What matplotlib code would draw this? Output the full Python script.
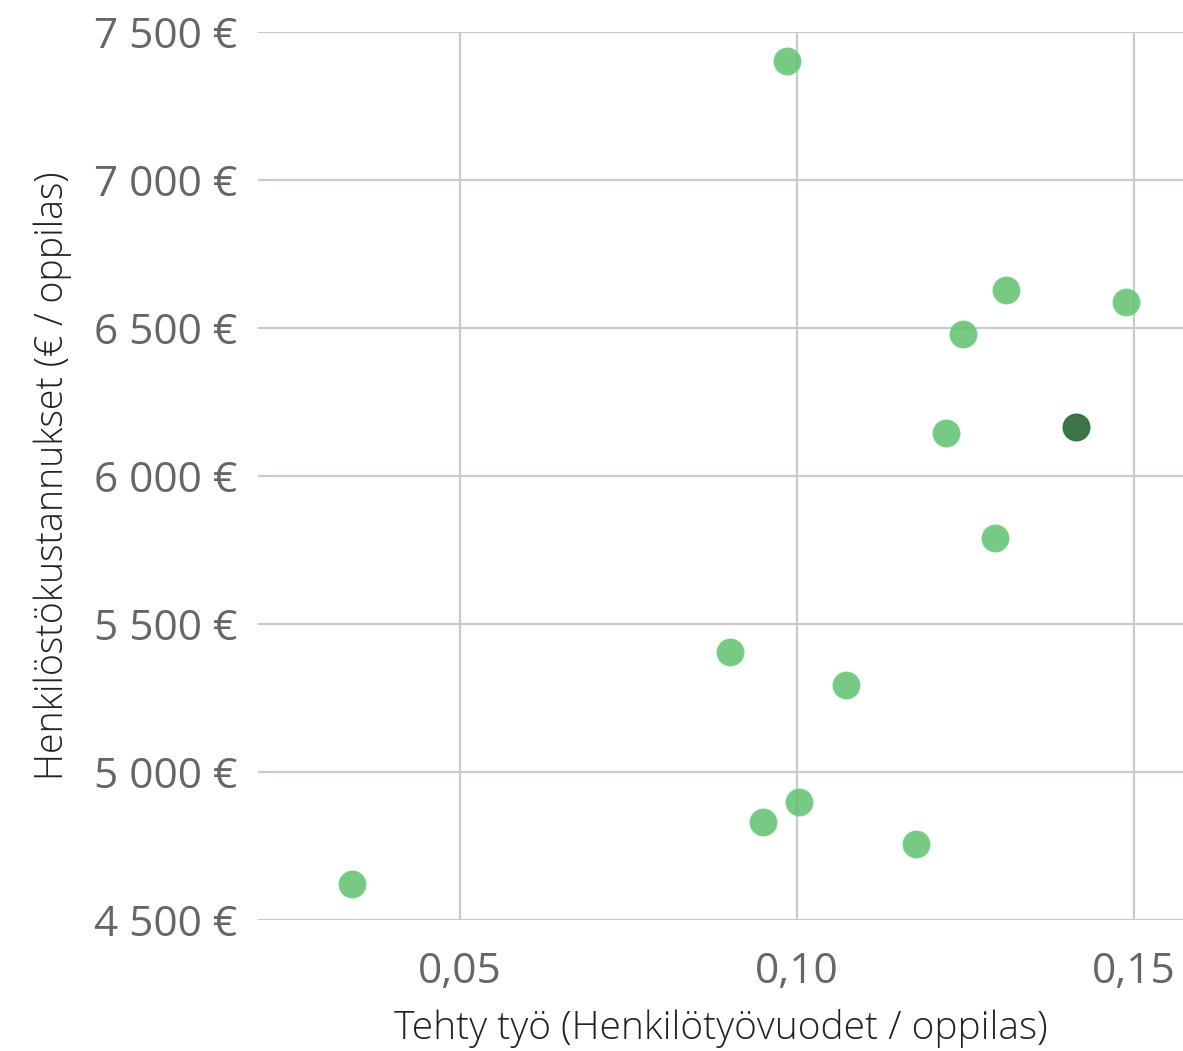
import matplotlib.pyplot as plt
from matplotlib.ticker import FuncFormatter

# work done (person-years / pupil) and personnel cost (EUR / pupil)
tehty_tyo = [0.0985, 0.131, 0.1488, 0.1246, 0.1221, 0.1294, 0.0901, 0.1073,
             0.1003, 0.0950, 0.1177, 0.034]
kustannus = [7402, 6628, 6588, 6480, 6145, 5791, 5405, 5294, 4899, 4831, 4757, 4622]

# highlighted unit
valittu_x = [0.1414]
valittu_y = [6166]

x_ticks = [0.05, 0.10, 0.15]
y_ticks = [4500, 5000, 5500, 6000, 6500, 7000, 7500]

plt.rcParams['font.family'] = ['Open Sans', 'DejaVu Sans']

fig = plt.figure(figsize=(11.83, 10.51), dpi=100)
ax = fig.add_axes([0.218, 0.1246, 0.782, 0.845])

ax.scatter(tehty_tyo, kustannus, s=360, color='#5fc06e', alpha=0.85,
           edgecolors='#6fcf7e', linewidths=1.2, zorder=3)
ax.scatter(valittu_x, valittu_y, s=360, color='#2b6a36', alpha=0.92,
           edgecolors='#336e3d', linewidths=1.2, zorder=4)

ax.set_xlim(0.0200, 0.1573)
ax.set_ylim(4500, 7500)
ax.set_xticks(x_ticks)
ax.set_yticks(y_ticks)
ax.xaxis.set_major_formatter(FuncFormatter(lambda v, p: f"{v:.2f}".replace('.', ',')))
ax.yaxis.set_major_formatter(FuncFormatter(lambda v, p: f"{int(v):,} €".replace(',', ' ')))

ax.grid(True, color='#c6ccc6', linewidth=1.6, zorder=0)
ax.set_axisbelow(True)
for s in ax.spines.values():
    s.set_visible(False)
ax.tick_params(length=0, labelsize=30.5, labelcolor='#666666')
ax.tick_params(axis='x', pad=22)
ax.tick_params(axis='y', pad=15)

ax.set_xlabel('Tehty työ (Henkilötyövuodet / oppilas)', fontsize=28,
              fontweight='light', color='#222222', labelpad=12)
ax.set_ylabel('Henkilöstökustannukset (€ / oppilas)', fontsize=27,
              fontweight='light', color='#222222', labelpad=16)

fig.savefig('out.png', dpi=100)
